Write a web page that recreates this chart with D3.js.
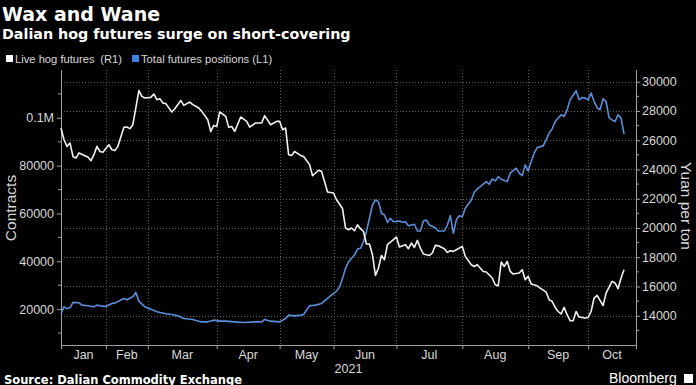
<!DOCTYPE html>
<html><head><meta charset="utf-8">
<script src="https://cdn.jsdelivr.net/npm/d3@7"></script>
<style>body{margin:0;background:#000;overflow:hidden}svg{display:block}</style>
</head><body><svg id="c" width="696" height="385"></svg>
<script>
// ---- data ----
const months = ["Jan","Feb","Mar","Apr","May","Jun","Jul","Aug","Sep","Oct"];
const monthTradingDays = [15,14,23,21,18,21,22,22,20,16];
const yearLabel = "2021";

// Live hog futures (Yuan per ton), by trading-day index
const hogDay = [0,1,2,3,4,5,6,8,9,10,11,12,13,14,16,17,18,19,21,22,23,24,26,27,28,30,31,32,33,34,35,37,38,40,41,43,44,46,47,49,50,51,52,53,55,56,57,58,60,62,63,65,67,68,70,72,73,74,75,76,77,78,80,81,83,84,85,86,87,88,89,91,92,94,95,96,97,98,99,100,101,102,103,104,105,106,107,108,109,111,112,113,115,116,117,118,119,120,121,123,124,125,126,128,129,130,131,132,134,135,137,138,139,141,142,144,145,146,147,148,149,150,151,153,154,155,156,157,159,160,162,163,164,165,166,167,168,169,170,171,172,173,175,176,177,178,179,181,182,184,185,186,187,188];
const hogPrice = [26830,26030,25580,25810,24890,24780,25130,24940,24850,24600,25010,25580,25230,25170,25690,25350,25300,25580,26880,26900,26790,27060,29390,29000,28890,28930,29160,28770,28840,28540,28500,27930,28150,28720,28380,28610,28430,28200,27970,27400,26600,27010,26940,27930,27630,26880,26940,26600,27590,27290,26900,27180,27180,27680,27060,27290,27290,26720,26830,25010,24960,25230,24960,24890,24330,23570,23760,23940,23870,23180,22460,22390,21930,21330,20000,19880,20000,19810,20220,19950,19760,18900,18900,18170,16760,17260,18120,17830,18860,19200,19380,18700,18860,18580,18970,18670,19150,18630,18220,18120,18290,18810,18790,18580,18330,18440,18400,18510,18740,18060,17490,17370,17490,17030,16990,16580,16120,16050,17670,17370,17710,17030,16850,16920,17150,16460,16690,16170,16050,15890,15620,15090,14980,14570,14290,14120,14570,14070,13660,13660,14290,13910,13840,13880,14290,15210,15390,14700,15550,16350,16240,15850,16580,17150];

// Total futures positions (contracts), by trading-day index
const posDay = [0,1,2,3,4,6,7,9,11,12,13,15,17,18,21,22,24,25,26,28,30,32,35,37,39,41,44,46,47,49,51,53,55,58,61,65,67,68,70,73,75,76,78,80,81,83,85,87,89,90,92,93,94,95,96,98,99,100,101,102,103,104,105,106,107,108,109,110,111,113,114,115,116,118,119,120,121,122,123,125,126,128,129,130,131,132,133,134,135,137,138,139,140,142,143,144,145,146,147,149,150,152,153,154,155,156,157,158,159,161,162,163,164,165,167,168,169,170,172,173,174,175,176,177,178,179,180,181,182,183,184,185,186,187,188];
const positions = [18200,20960,20290,20540,22810,22640,21680,21380,20960,21680,21380,21130,22390,22510,24480,23900,25150,26990,23350,20960,20000,18870,18030,17780,17190,16100,15690,14970,14680,14680,15390,14970,14970,14680,14430,14680,14680,15690,14970,14680,16100,17490,17190,17490,17780,21380,21680,22390,24480,25570,27540,29210,32860,37050,39810,42620,45130,45420,48190,52380,57990,63560,65650,64940,60080,59370,56310,57990,56570,56860,56310,56570,54890,55480,52670,52670,56860,57280,55180,54050,52670,52670,55180,59080,51710,57280,59080,58660,62180,65650,68880,70260,71200,73320,72230,74450,73610,75410,74320,73320,76840,78930,76840,75830,80310,77800,81700,85220,87560,88270,90790,93590,95390,98450,101260,100550,103350,107540,111310,107540,108500,108250,107540,110350,106830,104310,103350,107960,106830,100130,99160,98450,101260,99870,93170];

const leftMajorTicks = [20000,40000,60000,80000,100000];
const leftTickLabels = ["20000","40000","60000","80000","0.1M"];
const leftMinorTicks = [10000,30000,50000,70000,90000,110000];
const rightMajorTicks = [14000,16000,18000,20000,22000,24000,26000,28000,30000];
const rightMinorTicks = [13000,15000,17000,19000,21000,23000,25000,27000,29000];

const title = "Wax and Wane";
const subtitle = "Dalian hog futures surge on short-covering";
const legendLabels = ["Live hog futures\u2002(R1)", "Total futures positions (L1)"];
const leftTitle = "Contracts";
const rightTitle = "Yuan per ton";
const sourceText = "Source: Dalian Commodity Exchange";

// ---- layout ----
const L = 61, R = 636, T = 70, B = 345;
const WHITE = "#f2f2f2", BLUE = "#5a8ed8", TXT = "#d8d8d8", AX = "#a0a0a0", GRID = "#5e5e5e";
const tickFont = "'Liberation Sans', Arial, sans-serif";

const monthStarts = [0];
monthTradingDays.forEach(d => monthStarts.push(monthStarts[monthStarts.length-1] + d));
const totalDays = monthStarts[monthStarts.length-1];

const x = d3.scaleLinear().domain([0, totalDays]).range([L, R]);
const yL = d3.scaleLinear().domain([5000, 120000]).range([B, T]);
const yR = d3.scaleLinear().domain([12000, 30800]).range([B, T]);

const svg = d3.select("#c");
svg.append("rect").attr("width",696).attr("height",385).attr("fill","#000");

// titles
svg.append("text").attr("x",2).attr("y",21).text(title)
  .attr("fill","#fff").attr("font-family","'DejaVu Sans', sans-serif").attr("font-weight","bold").attr("font-size",19);
svg.append("text").attr("x",2).attr("y",39).text(subtitle)
  .attr("fill","#fff").attr("font-family","'DejaVu Sans', sans-serif").attr("font-weight","bold").attr("font-size",14.3);

// legend
const legX = [6, 132];
legendLabels.forEach((t,i) => {
  svg.append("rect").attr("x",legX[i]).attr("y",55).attr("width",7).attr("height",7).attr("fill", i===0 ? "#fff" : "#3f80e6");
  svg.append("text").attr("x",legX[i]+9).attr("y",62.5).text(t)
    .attr("fill",TXT).attr("font-family",tickFont).attr("font-size",11.2);
});

// grid
const grid = svg.append("g").attr("stroke",GRID).attr("stroke-width",1).attr("stroke-dasharray","1,2");
rightMajorTicks.forEach(v => {
  grid.append("line").attr("x1",L).attr("x2",R).attr("y1",Math.round(yR(v))+0.5).attr("y2",Math.round(yR(v))+0.5);
});
monthStarts.slice(1,-1).forEach(d => {
  grid.append("line").attr("x1",Math.round(x(d))+0.5).attr("x2",Math.round(x(d))+0.5).attr("y1",T).attr("y2",B);
});

// left axis
const gL = svg.append("g").attr("transform",`translate(${L},0)`)
  .call(d3.axisLeft(yL).tickValues(leftMajorTicks).tickSize(4).tickPadding(3)
    .tickFormat((d,i) => leftTickLabels[i]));
gL.selectAll(".domain").remove();
gL.append("line").attr("x1",0.5).attr("x2",0.5).attr("y1",T).attr("y2",B).attr("stroke",AX);
leftMinorTicks.forEach(v => gL.append("line").attr("x1",0).attr("x2",-3).attr("y1",yL(v)).attr("y2",yL(v)).attr("stroke",AX));
gL.selectAll(".tick line").attr("stroke",AX);
gL.selectAll(".tick text").attr("fill",TXT).attr("font-family",tickFont).attr("font-size",12.5);

// right axis
const gR = svg.append("g").attr("transform",`translate(${R},0)`)
  .call(d3.axisRight(yR).tickValues(rightMajorTicks).tickSize(4).tickPadding(2).tickFormat(d3.format("d")));
gR.selectAll(".domain").remove();
gR.append("line").attr("x1",0.5).attr("x2",0.5).attr("y1",T).attr("y2",B).attr("stroke",AX);
rightMinorTicks.forEach(v => gR.append("line").attr("x1",0).attr("x2",3).attr("y1",yR(v)).attr("y2",yR(v)).attr("stroke",AX));
gR.selectAll(".tick line").attr("stroke",AX);
gR.selectAll(".tick text").attr("fill",TXT).attr("font-family",tickFont).attr("font-size",12.5);

// bottom axis
const gB = svg.append("g").attr("transform",`translate(0,${B})`)
  .call(d3.axisBottom(x).tickValues(monthStarts).tickSize(4).tickFormat(""));
gB.selectAll(".domain").remove();
gB.append("line").attr("x1",L).attr("x2",R).attr("y1",0.5).attr("y2",0.5).attr("stroke",AX);
gB.selectAll(".tick line").attr("stroke",AX);
months.forEach((m,i) => {
  gB.append("text").attr("x",x((monthStarts[i]+monthStarts[i+1])/2)).attr("y",13.5)
    .attr("text-anchor","middle").text(m).attr("fill",TXT).attr("font-family",tickFont).attr("font-size",12.5);
});
gB.append("text").attr("x",(L+R)/2).attr("y",27.5).attr("text-anchor","middle").text(yearLabel)
  .attr("fill",TXT).attr("font-family",tickFont).attr("font-size",12.5);

// axis titles
svg.append("text").attr("transform","translate(16,208) rotate(-90)").attr("text-anchor","middle")
  .text(leftTitle).attr("fill",TXT).attr("font-family",tickFont).attr("font-size",15.5);
svg.append("text").attr("transform","translate(681,206) rotate(90)").attr("text-anchor","middle")
  .text(rightTitle).attr("fill",TXT).attr("font-family",tickFont).attr("font-size",15.5);

// lines
const posData = posDay.map((d,i) => [d, positions[i]]);
const hogData = hogDay.map((d,i) => [d, hogPrice[i]]);
svg.append("path").datum(posData)
  .attr("d", d3.line().x(d => x(d[0])).y(d => yL(d[1])))
  .attr("fill","none").attr("stroke",BLUE).attr("stroke-width",1.6).attr("stroke-linejoin","round");
svg.append("path").datum(hogData)
  .attr("d", d3.line().x(d => x(d[0])).y(d => yR(d[1])))
  .attr("fill","none").attr("stroke",WHITE).attr("stroke-width",1.6).attr("stroke-linejoin","round");

// footer
svg.append("text").attr("x",4).attr("y",383.5).text(sourceText)
  .attr("fill","#fff").attr("font-family","'DejaVu Sans', sans-serif").attr("font-weight","bold").attr("font-size",11.5);
svg.append("text").attr("x",609).attr("y",383).text("Bloomberg")
  .attr("fill","#fff").attr("font-family",tickFont).attr("font-size",14);
svg.append("rect").attr("x",684).attr("y",374).attr("width",9).attr("height",9).attr("fill","#fff");
</script>
</body></html>
